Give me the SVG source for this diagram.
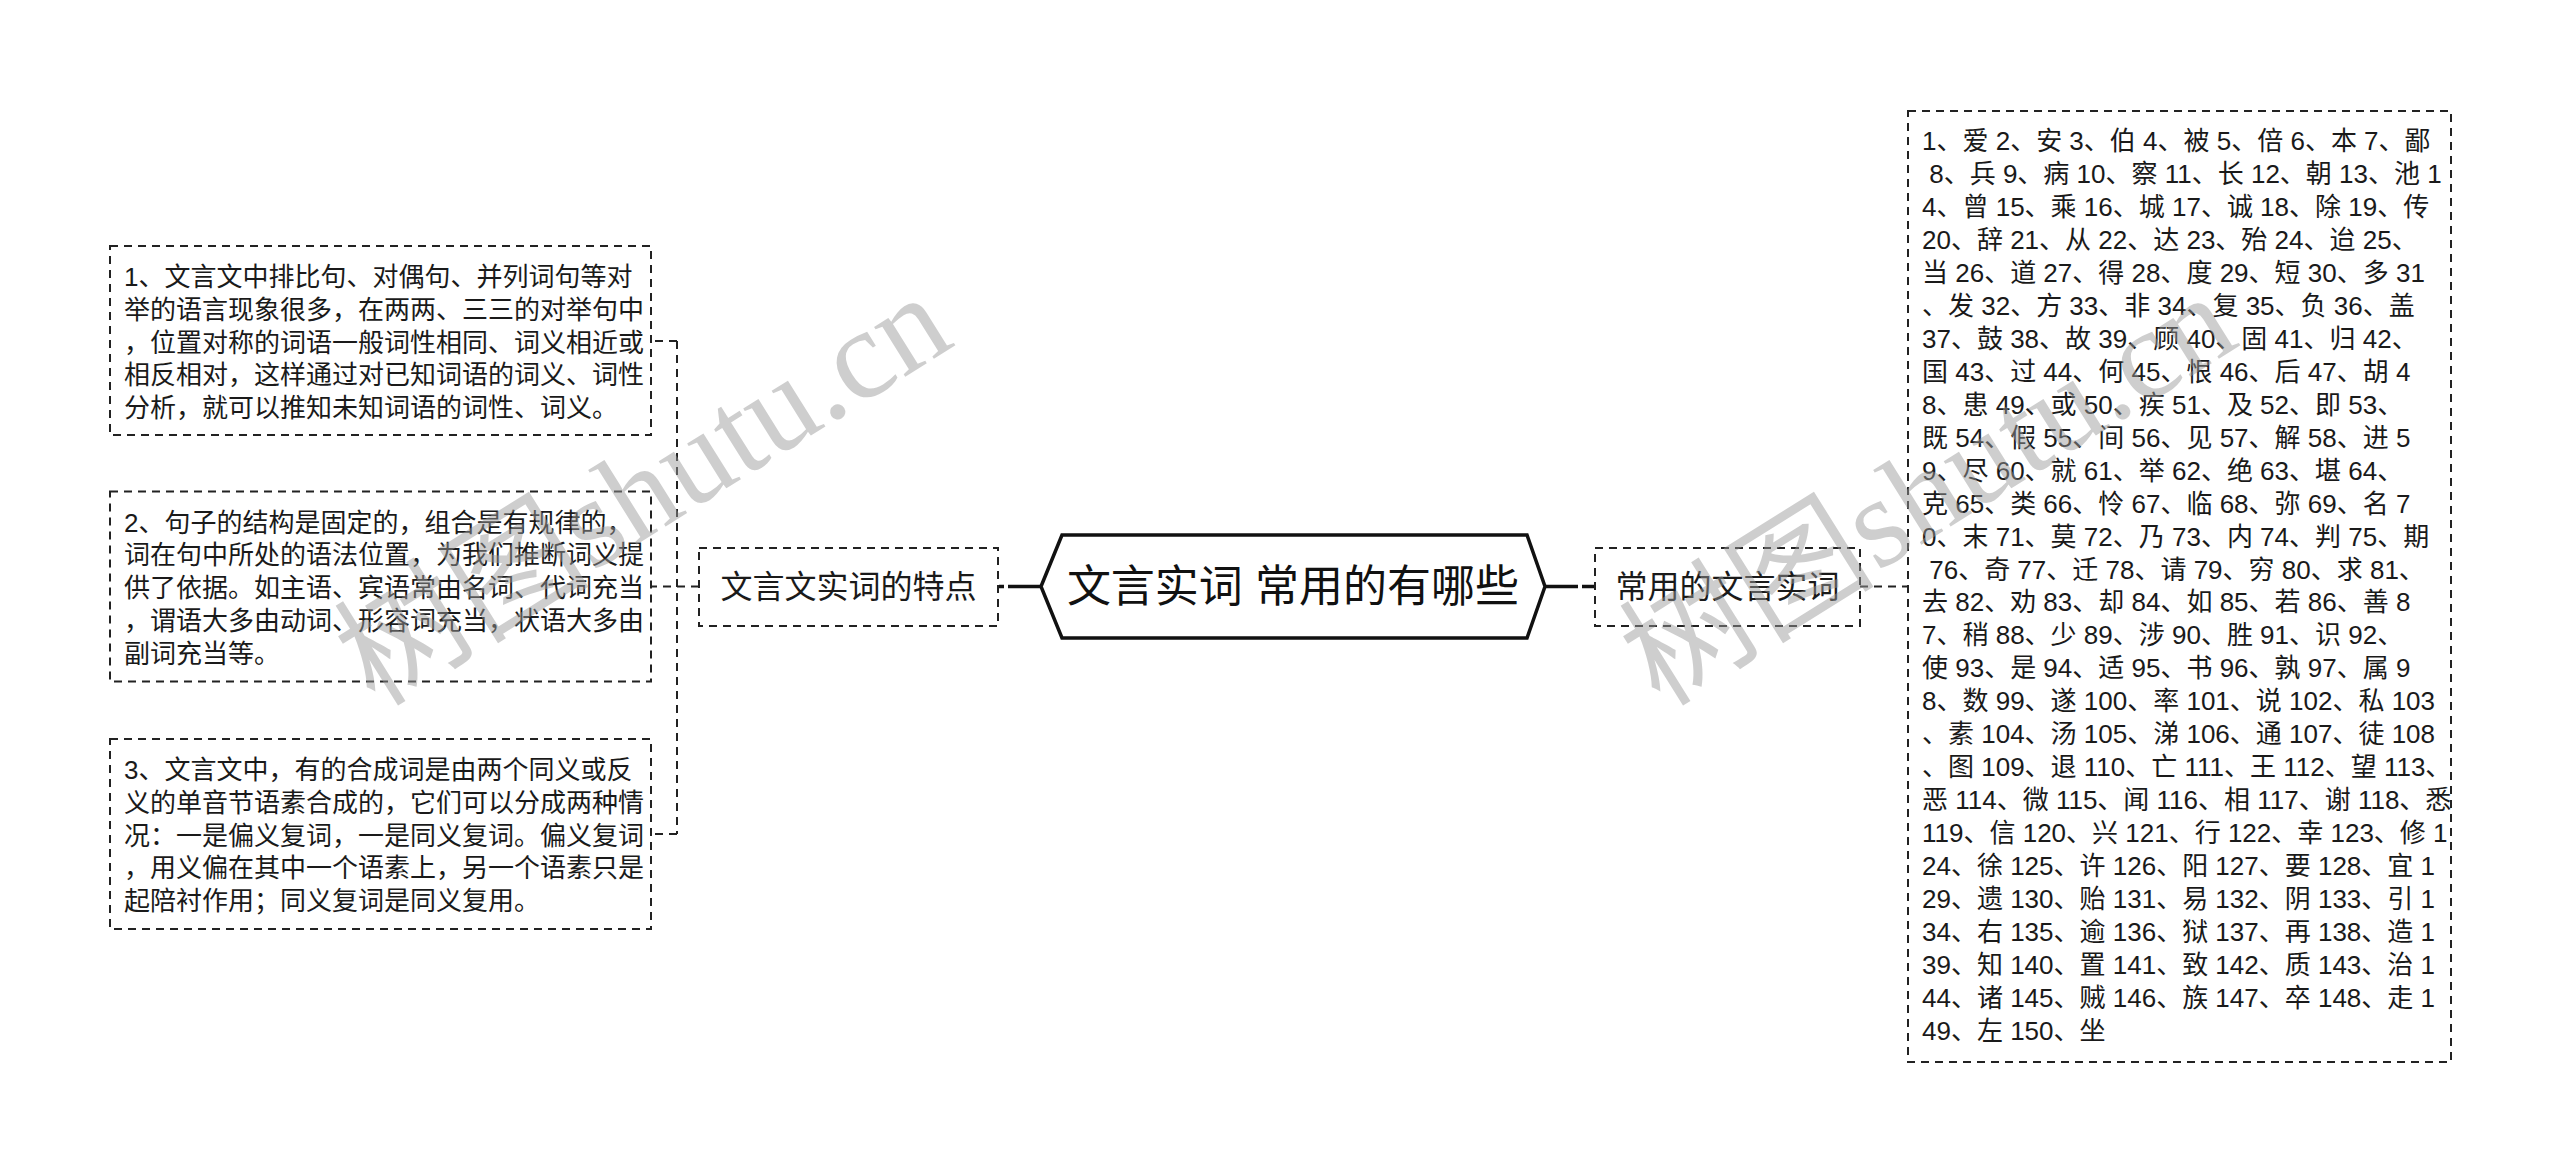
<svg xmlns="http://www.w3.org/2000/svg" width="2560" height="1175" viewBox="0 0 2560 1175">
<style>
.box{fill:#fff;stroke:#222;stroke-width:2;stroke-dasharray:8 6}
.conn{fill:none;stroke:#222;stroke-width:2;stroke-dasharray:8 6}
.thick{fill:none;stroke:#111;stroke-width:3.5;stroke-dasharray:33 4}
.t{font-family:"Liberation Sans","Noto Sans CJK SC",sans-serif;font-size:26px;fill:#1a1a1a;dominant-baseline:central}
.n{font-family:"Liberation Sans","Noto Sans CJK SC",sans-serif;font-size:32px;fill:#1a1a1a;dominant-baseline:central;text-anchor:middle}
.c{font-family:"Liberation Sans","Noto Sans CJK SC",sans-serif;font-size:44px;fill:#111;dominant-baseline:central;text-anchor:middle}
.wm{font-family:"Liberation Serif","Noto Sans CJK SC",serif;font-size:128px;fill:#9a9a9a;opacity:0.48}
</style>
<rect width="2560" height="1175" fill="#fff"/>
<g id="connectors">
<line class="thick" x1="1041" y1="586.5" x2="999" y2="586.5"/>
<line class="thick" x1="1545" y1="586.5" x2="1595" y2="586.5"/>
<line class="conn" x1="699" y1="586.5" x2="651" y2="586.5"/>
<line class="conn" x1="677" y1="341" x2="677" y2="834"/>
<line class="conn" x1="677" y1="341" x2="651" y2="341"/>
<line class="conn" x1="677" y1="834" x2="651" y2="834"/>
<line class="conn" x1="1860" y1="586.5" x2="1908" y2="586.5"/>
</g>
<g id="center">
<polygon points="1041,586.5 1062,535 1527,535 1545,586.5 1527,638 1062,638" fill="#fff" stroke="#111" stroke-width="3.5"/>
<text class="c" x="1293" y="586.5">文言实词 常用的有哪些</text>
</g>
<g id="node-left">
<rect class="box" x="699" y="548" width="299" height="78"/>
<text class="n" x="848.5" y="587">文言文实词的特点</text>
</g>
<g id="node-right">
<rect class="box" x="1595" y="548" width="265" height="78"/>
<text class="n" x="1727.5" y="587">常用的文言实词</text>
</g>
<g id="leaf-1">
<rect class="box" x="110" y="246" width="541" height="189"/>
<text class="t" x="124" y="277">1、文言文中排比句、对偶句、并列词句等对</text>
<text class="t" x="124" y="309.8">举的语言现象很多，在两两、三三的对举句中</text>
<text class="t" x="124" y="342.6">，位置对称的词语一般词性相同、词义相近或</text>
<text class="t" x="124" y="375.4">相反相对，这样通过对已知词语的词义、词性</text>
<text class="t" x="124" y="408.2">分析，就可以推知未知词语的词性、词义。</text>
</g>
<g id="leaf-2">
<rect class="box" x="110" y="491.5" width="541" height="190"/>
<text class="t" x="124" y="522.5">2、句子的结构是固定的，组合是有规律的，</text>
<text class="t" x="124" y="555.3">词在句中所处的语法位置，为我们推断词义提</text>
<text class="t" x="124" y="588.1">供了依据。如主语、宾语常由名词、代词充当</text>
<text class="t" x="124" y="620.9">，谓语大多由动词、形容词充当，状语大多由</text>
<text class="t" x="124" y="653.7">副词充当等。</text>
</g>
<g id="leaf-3">
<rect class="box" x="110" y="739" width="541" height="190"/>
<text class="t" x="124" y="770">3、文言文中，有的合成词是由两个同义或反</text>
<text class="t" x="124" y="802.8">义的单音节语素合成的，它们可以分成两种情</text>
<text class="t" x="124" y="835.6">况：一是偏义复词，一是同义复词。偏义复词</text>
<text class="t" x="124" y="868.4">，用义偏在其中一个语素上，另一个语素只是</text>
<text class="t" x="124" y="901.2">起陪衬作用；同义复词是同义复用。</text>
</g>
<g id="leaf-words">
<rect class="box" x="1908" y="111" width="543" height="951"/>
<text class="t" x="1922" y="141">1、爱 2、安 3、伯 4、被 5、倍 6、本 7、鄙</text>
<text class="t" x="1922" y="174" xml:space="preserve"> 8、兵 9、病 10、察 11、长 12、朝 13、池 1</text>
<text class="t" x="1922" y="206.9">4、曾 15、乘 16、城 17、诚 18、除 19、传</text>
<text class="t" x="1922" y="239.9">20、辞 21、从 22、达 23、殆 24、迨 25、</text>
<text class="t" x="1922" y="272.8">当 26、道 27、得 28、度 29、短 30、多 31</text>
<text class="t" x="1922" y="305.8">、发 32、方 33、非 34、复 35、负 36、盖</text>
<text class="t" x="1922" y="338.8">37、鼓 38、故 39、顾 40、固 41、归 42、</text>
<text class="t" x="1922" y="371.7">国 43、过 44、何 45、恨 46、后 47、胡 4</text>
<text class="t" x="1922" y="404.7">8、患 49、或 50、疾 51、及 52、即 53、</text>
<text class="t" x="1922" y="437.6">既 54、假 55、间 56、见 57、解 58、进 5</text>
<text class="t" x="1922" y="470.6">9、尽 60、就 61、举 62、绝 63、堪 64、</text>
<text class="t" x="1922" y="503.6">克 65、类 66、怜 67、临 68、弥 69、名 7</text>
<text class="t" x="1922" y="536.5">0、末 71、莫 72、乃 73、内 74、判 75、期</text>
<text class="t" x="1922" y="569.5" xml:space="preserve"> 76、奇 77、迁 78、请 79、穷 80、求 81、</text>
<text class="t" x="1922" y="602.4">去 82、劝 83、却 84、如 85、若 86、善 8</text>
<text class="t" x="1922" y="635.4">7、稍 88、少 89、涉 90、胜 91、识 92、</text>
<text class="t" x="1922" y="668.4">使 93、是 94、适 95、书 96、孰 97、属 9</text>
<text class="t" x="1922" y="701.3">8、数 99、遂 100、率 101、说 102、私 103</text>
<text class="t" x="1922" y="734.3">、素 104、汤 105、涕 106、通 107、徒 108</text>
<text class="t" x="1922" y="767.2">、图 109、退 110、亡 111、王 112、望 113、</text>
<text class="t" x="1922" y="800.2">恶 114、微 115、闻 116、相 117、谢 118、悉</text>
<text class="t" x="1922" y="833.2">119、信 120、兴 121、行 122、幸 123、修 1</text>
<text class="t" x="1922" y="866.1">24、徐 125、许 126、阳 127、要 128、宜 1</text>
<text class="t" x="1922" y="899.1">29、遗 130、贻 131、易 132、阴 133、引 1</text>
<text class="t" x="1922" y="932">34、右 135、逾 136、狱 137、再 138、造 1</text>
<text class="t" x="1922" y="965">39、知 140、置 141、致 142、质 143、治 1</text>
<text class="t" x="1922" y="998">44、诸 145、贼 146、族 147、卒 148、走 1</text>
<text class="t" x="1922" y="1031">49、左 150、坐</text>
</g>
<g id="watermark">
<text class="wm" x="0" y="0" transform="translate(375,708) rotate(-32)">树图shutu.cn</text>
<text class="wm" x="0" y="0" transform="translate(1660,708) rotate(-32)">树图shutu.cn</text>
</g>
</svg>
